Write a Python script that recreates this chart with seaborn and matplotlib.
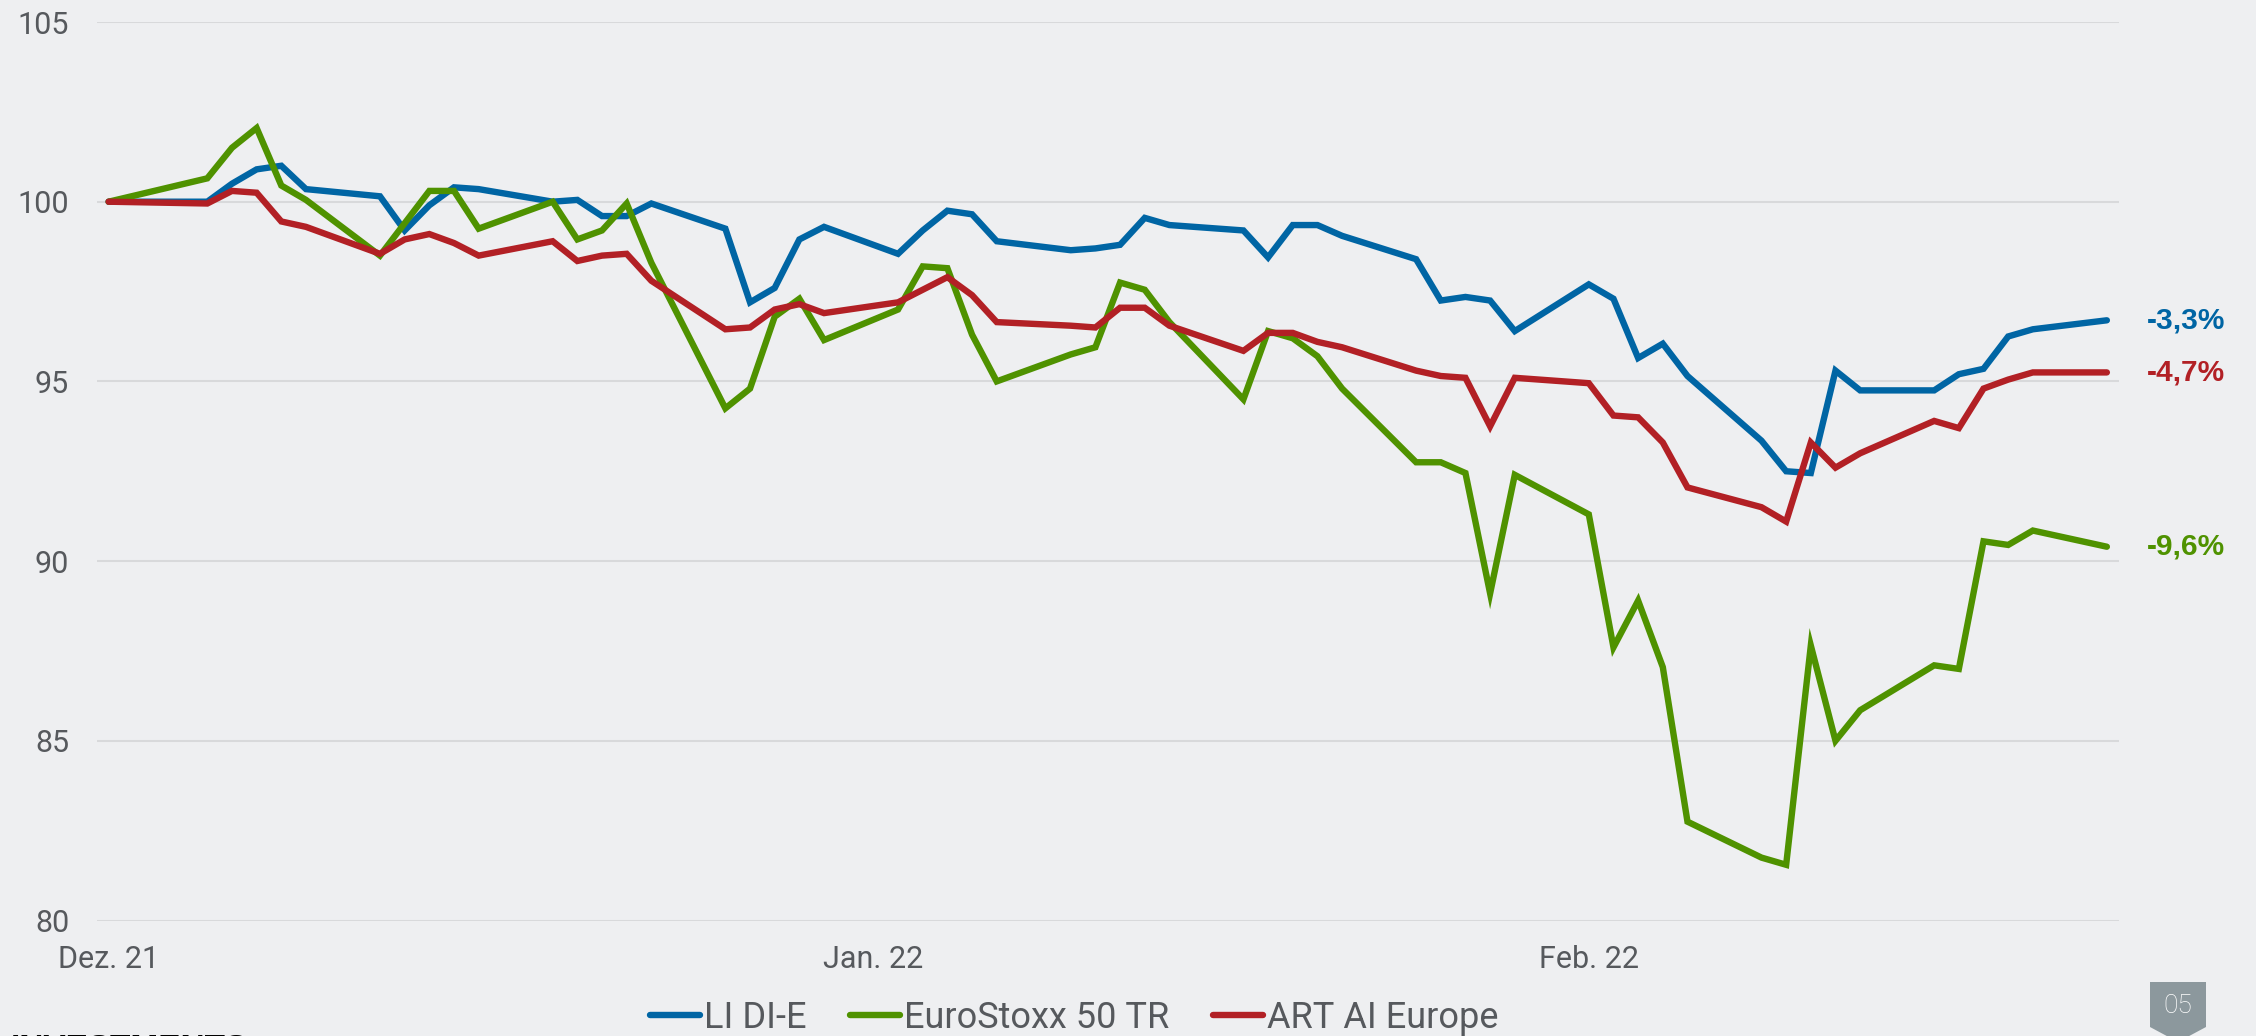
import matplotlib
matplotlib.use("Agg")
import pandas as pd
import matplotlib.pyplot as plt
from matplotlib import font_manager
from matplotlib.patches import Polygon
import seaborn as sns

# Data (index, 30.12.2021 = 100).
dates = [
    "2021-12-30", "2022-01-03", "2022-01-04", "2022-01-05", "2022-01-06", "2022-01-07",
    "2022-01-10", "2022-01-11", "2022-01-12", "2022-01-13", "2022-01-14",
    "2022-01-17", "2022-01-18", "2022-01-19", "2022-01-20", "2022-01-21",
    "2022-01-24", "2022-01-25", "2022-01-26", "2022-01-27", "2022-01-28",
    "2022-01-31", "2022-02-01", "2022-02-02", "2022-02-03", "2022-02-04",
    "2022-02-07", "2022-02-08", "2022-02-09", "2022-02-10", "2022-02-11",
    "2022-02-14", "2022-02-15", "2022-02-16", "2022-02-17", "2022-02-18",
    "2022-02-21", "2022-02-22", "2022-02-23", "2022-02-24", "2022-02-25",
    "2022-02-28", "2022-03-01", "2022-03-02", "2022-03-03", "2022-03-04",
    "2022-03-07", "2022-03-08", "2022-03-09", "2022-03-10", "2022-03-11",
    "2022-03-14", "2022-03-15", "2022-03-16", "2022-03-17", "2022-03-18",
    "2022-03-21",
]
li_di_e = [
    100.0, 100.0, 100.5, 100.9, 101.0, 100.35,
    100.15, 99.2, 99.9, 100.4, 100.35,
    100.0, 100.05, 99.6, 99.6, 99.95,
    99.25, 97.2, 97.6, 98.95, 99.3,
    98.55, 99.2, 99.75, 99.65, 98.9,
    98.65, 98.7, 98.8, 99.55, 99.35,
    99.2, 98.45, 99.35, 99.35, 99.05,
    98.4, 97.25, 97.35, 97.25, 96.4,
    97.7, 97.3, 95.65, 96.05, 95.15,
    93.35, 92.5, 92.45, 95.3, 94.75,
    94.75, 95.2, 95.35, 96.25, 96.45,
    96.7,
]
eurostoxx = [
    100.0, 100.65, 101.5, 102.05, 100.45, 100.05,
    98.5, 99.4, 100.3, 100.3, 99.25,
    100.0, 98.95, 99.2, 99.95, 98.3,
    94.25, 94.8, 96.8, 97.3, 96.15,
    97.0, 98.2, 98.15, 96.3, 95.0,
    95.75, 95.95, 97.75, 97.55, 96.65,
    94.5, 96.4, 96.2, 95.7, 94.8,
    92.75, 92.75, 92.45, 89.1, 92.4,
    91.3, 87.6, 88.9, 87.05, 82.75,
    81.75, 81.55, 87.65, 85.0, 85.85,
    87.1, 87.0, 90.55, 90.45, 90.85,
    90.4,
]
art_ai = [
    100.0, 99.95, 100.3, 100.25, 99.45, 99.3,
    98.55, 98.95, 99.1, 98.85, 98.5,
    98.9, 98.35, 98.5, 98.55, 97.8,
    96.45, 96.5, 97.0, 97.15, 96.9,
    97.2, 97.55, 97.9, 97.4, 96.65,
    96.55, 96.5, 97.05, 97.05, 96.55,
    95.85, 96.35, 96.35, 96.1, 95.95,
    95.3, 95.15, 95.1, 93.75, 95.1,
    94.95, 94.05, 94.0, 93.3, 92.05,
    91.5, 91.1, 93.3, 92.6, 93.0,
    93.9, 93.7, 94.8, 95.05, 95.25,
    95.25,
]
series_names = ["LI DI-E", "EuroStoxx 50 TR", "ART AI Europe"]
series_colors = ["#0065A4", "#4F9200", "#B22025"]
end_labels = ["-3,3%", "-9,6%", "-4,7%"]
tick_dates = ["2021-12-30", "2022-01-30", "2022-02-28"]
tick_labels = ["Dez. 21", "Jan. 22", "Feb. 22"]
y_ticks = [80, 85, 90, 95, 100, 105]

BG = "#EEEFF1"
GRID = "#D8D9DB"
TXT = "#56595D"
W, H = 2256, 1036

df = pd.concat([
    pd.DataFrame({"Datum": pd.to_datetime(dates), "Wert": vals, "Serie": name})
    for name, vals in zip(series_names, [li_di_e, eurostoxx, art_ai])
])

sns.set_theme(style="white", rc={"axes.facecolor": BG, "figure.facecolor": BG})
names = {f.name for f in font_manager.fontManager.ttflist}
narrow = "Liberation Sans Narrow" if "Liberation Sans Narrow" in names else "Roboto"
plt.rcParams["font.family"] = ["Roboto", "DejaVu Sans"]

fig = plt.figure(figsize=(W / 100, H / 100), dpi=100)
ax = fig.add_axes([97 / W, 1 - 920.5 / H, (2119.4 - 97) / W, (920.5 - 22) / H])

sns.lineplot(data=df, x="Datum", y="Wert", hue="Serie", hue_order=series_names,
             palette=dict(zip(series_names, series_colors)), linewidth=4.6, ax=ax)
for line in ax.get_lines():
    line.set_solid_capstyle("round")
    line.set_solid_joinstyle("miter")

ax.set_ylim(80, 105)
ax.set_yticks(y_ticks)
ax.set_xlim(pd.Timestamp(dates[0]) - pd.Timedelta(hours=11.3),
            pd.Timestamp(dates[-1]) + pd.Timedelta(hours=12.2))
ax.set_xticks(pd.to_datetime(tick_dates))
ax.set_xticklabels(tick_labels)
ax.set_xlabel("")
ax.set_ylabel("")
ax.grid(axis="y", color=GRID, linewidth=1.5)
ax.grid(axis="x", visible=False)
ax.set_axisbelow(True)
sns.despine(ax=ax, left=True, bottom=True)
ax.tick_params(length=0, labelsize=22, labelcolor=TXT)
ax.tick_params(axis="y", pad=20)
ax.tick_params(axis="x", pad=18)

# legend below the chart
handles, labels = ax.get_legend_handles_labels()
ax.get_legend().remove()
leg_size = 29 if narrow == "Liberation Sans Narrow" else 26
leg = fig.legend(handles, labels, loc="center", bbox_to_anchor=(1074 / W, 1 - 1018 / H),
                 ncol=3, frameon=False, prop={"family": narrow, "size": leg_size},
                 handlelength=1.4, handletextpad=0.1, columnspacing=1.2, labelcolor=TXT)
for h in leg.get_lines():
    h.set_linewidth(4.6)
    h.set_solid_capstyle("round")

# performance labels at the line ends
for vals, color, lab in zip([li_di_e, eurostoxx, art_ai], series_colors, end_labels):
    ax.annotate(lab, xy=(pd.Timestamp(dates[-1]), vals[-1]), xytext=(29, 0),
                textcoords="offset points", va="center", ha="left", color=color,
                fontsize=21.5, fontweight="bold", family=["Liberation Sans", "DejaVu Sans"],
                annotation_clip=False)

# page badge and cut-off section title
badge = [(2150, 982), (2206, 982), (2206, 1027), (2178, 1042), (2150, 1027)]
fig.add_artist(Polygon([(x / W, 1 - y / H) for x, y in badge], closed=True,
                       transform=fig.transFigure, facecolor="#8C989D", edgecolor="none"))
fig.text(2178 / W, 1 - 1006 / H, "05", color="white", ha="center", va="center",
         fontsize=19, fontweight="light")
fig.text(11 / W, 1 - 1058 / H, "INVESTMENTS", color="black", ha="left", va="baseline",
         fontsize=24, fontweight="bold", family=["Liberation Sans", "DejaVu Sans"])

fig.savefig("out.png", dpi=100, facecolor=BG)
